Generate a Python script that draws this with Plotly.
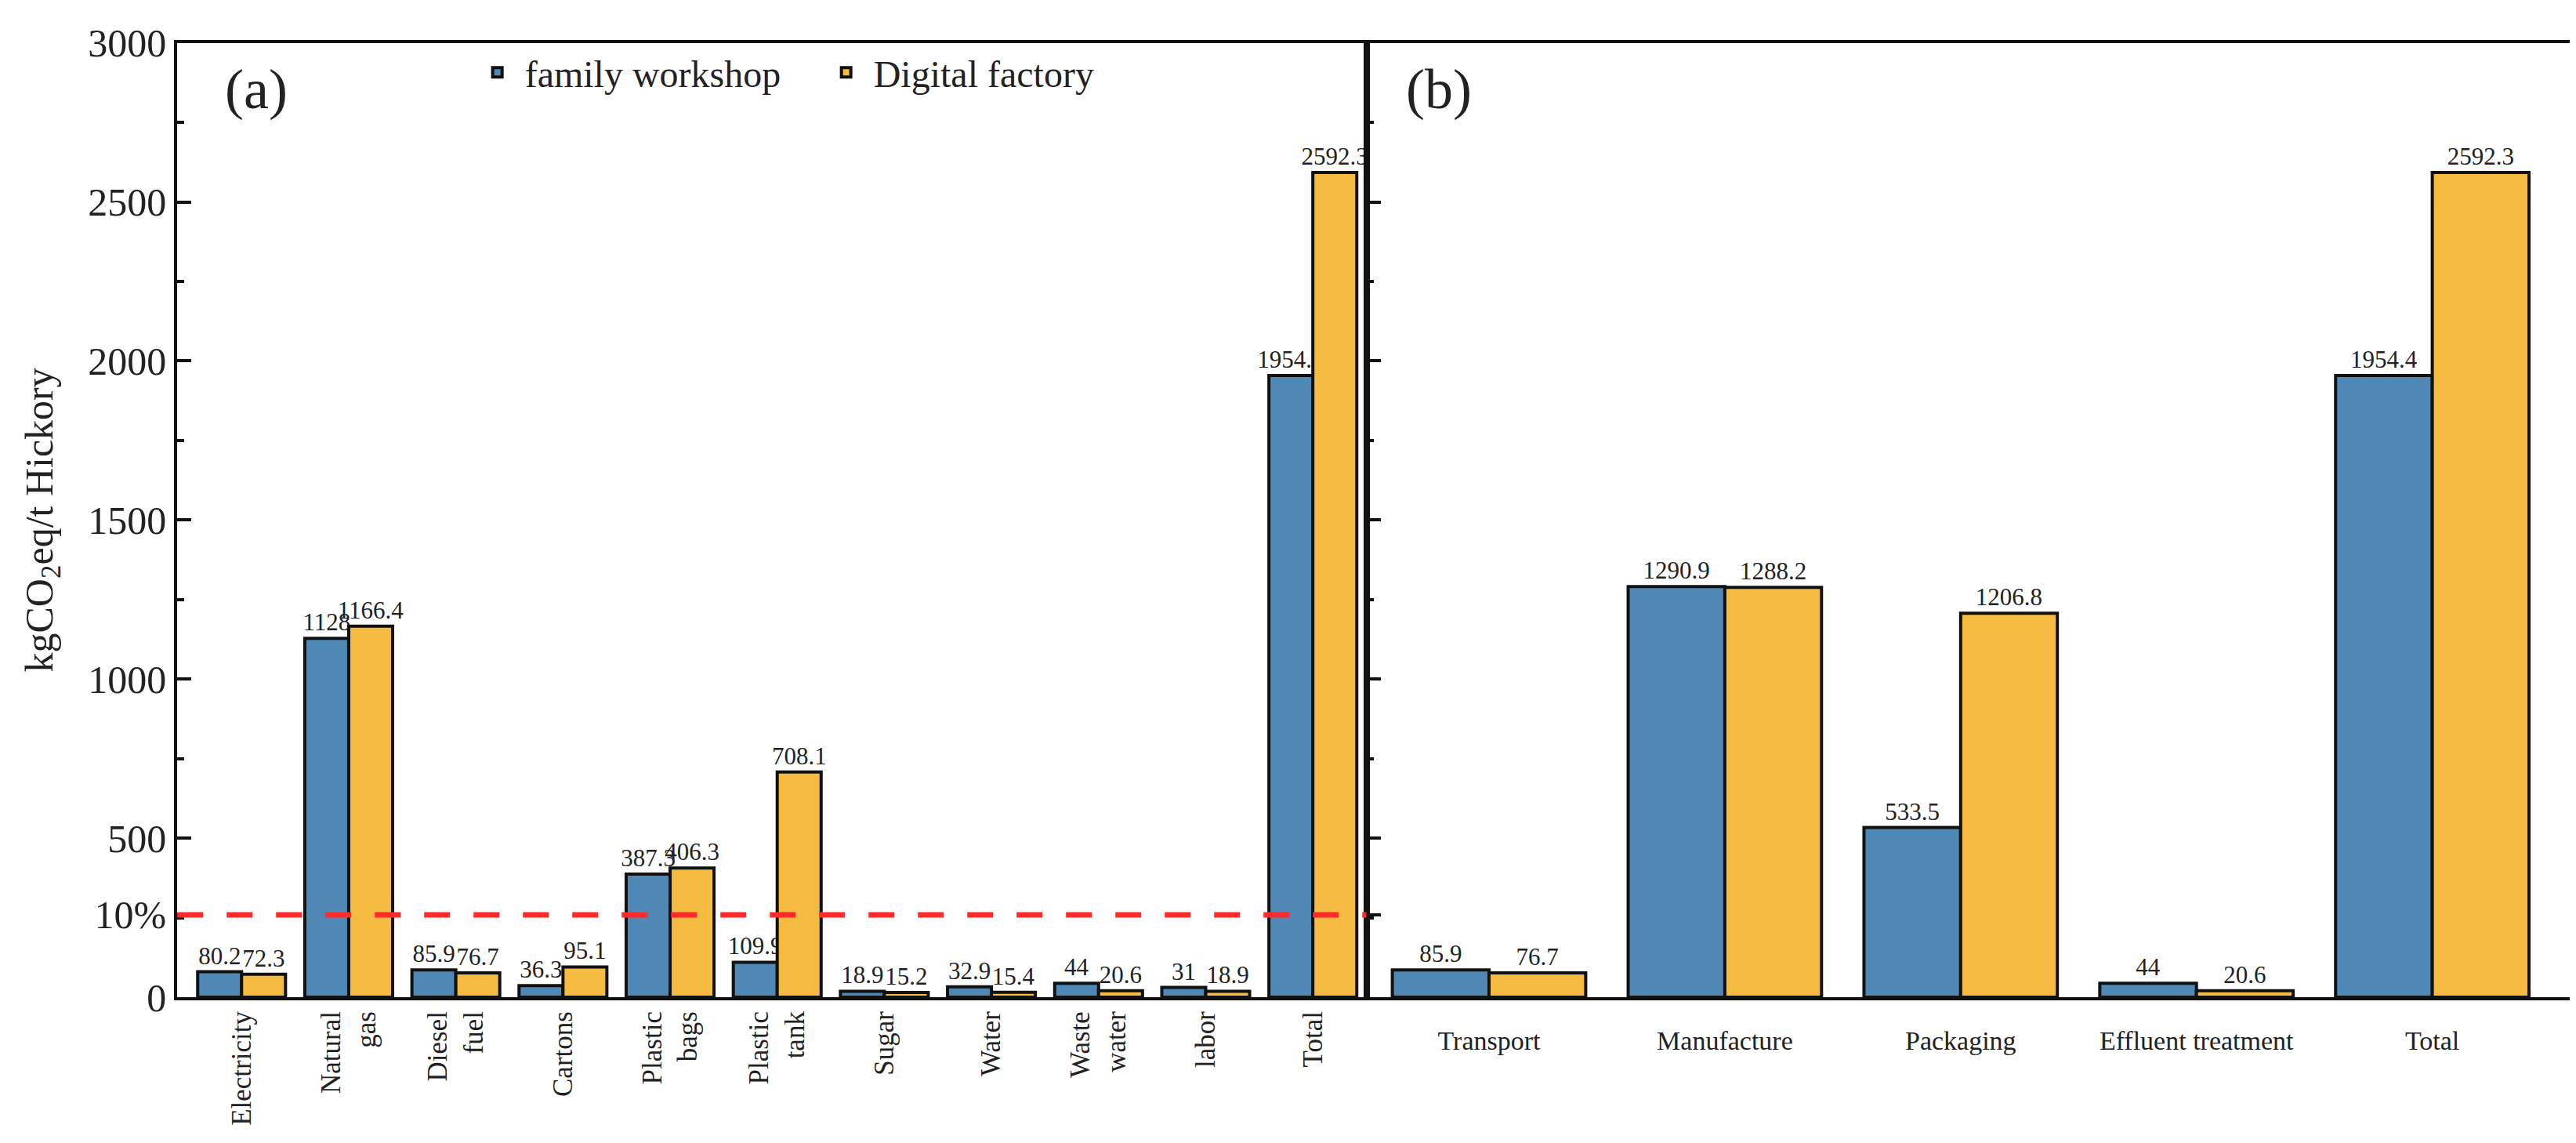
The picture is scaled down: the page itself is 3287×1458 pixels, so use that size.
import plotly.graph_objects as go

# panel (a) - by input
inputs = ["Electricity", "Natural<br>gas", "Diesel<br>fuel", "Cartons", "Plastic<br>bags",
          "Plastic<br>tank", "Sugar", "Water", "Waste<br>water", "labor", "Total"]
family_a = [80.2, 1128, 85.9, 36.3, 387.3, 109.9, 18.9, 32.9, 44, 31, 1954.4]
digital_a = [72.3, 1166.4, 76.7, 95.1, 406.3, 708.1, 15.2, 15.4, 20.6, 18.9, 2592.3]

# panel (b) - by stage
stages = ["Transport", "Manufacture", "Packaging", "Effluent treatment", "Total"]
family_b = [85.9, 1290.9, 533.5, 44, 1954.4]
digital_b = [76.7, 1288.2, 1206.8, 20.6, 2592.3]

threshold = 259.2  # 10% line
ytick_vals = [0, threshold, 500, 1000, 1500, 2000, 2500, 3000]
ytick_text = ["0", "10%", "500", "1000", "1500", "2000", "2500", "3000"]

BLUE = "#4f88b4"
GOLD = "#f5bc41"
FONT = "Liberation Serif"

fig = go.Figure()

def add_bars(x, y, name, color, xa, ya, legend):
    fig.add_trace(go.Bar(
        x=x, y=y, name=name, xaxis=xa, yaxis=ya, showlegend=legend,
        marker=dict(color=color, line=dict(color="#111111", width=4)),
        text=[f"{v:g}" for v in y], textposition="outside", cliponaxis=False,
        constraintext="none",
        textfont=dict(family=FONT, size=31, color="#222222"),
    ))

add_bars(inputs, family_a, "family workshop", BLUE, "x", "y", True)
add_bars(inputs, digital_a, "Digital factory", GOLD, "x", "y", True)
add_bars(stages, family_b, "family workshop", BLUE, "x2", "y2", False)
add_bars(stages, digital_b, "Digital factory", GOLD, "x2", "y2", False)

axis_common = dict(showline=True, linecolor="#111111", linewidth=4, mirror=True,
                   showgrid=False, zeroline=False)

fig.update_layout(
    width=3287, height=1458,
    margin=dict(l=0, r=0, t=0, b=0, autoexpand=False),
    plot_bgcolor="white", paper_bgcolor="white",
    font=dict(family=FONT, color="#222222"),
    barmode="group", bargap=0.18, bargroupgap=0,
    xaxis=dict(domain=[0.0664, 0.528], range=[-0.6, 10.5], ticks="",
               tickangle=-90, tickfont=dict(size=35), **axis_common),
    xaxis2=dict(domain=[0.528, 0.9967], range=[-0.52, 4.6], ticks="",
                tickangle=0, tickfont=dict(size=34), ticklabelstandoff=22,
                anchor="y2", **axis_common),
    yaxis=dict(domain=[0.133, 0.968], range=[0, 3000], tickmode="array",
               tickvals=ytick_vals, ticktext=ytick_text, ticks="inside",
               ticklen=18, tickwidth=4, tickcolor="#111111",
               tickfont=dict(size=50),
               minor=dict(tickmode="linear", tick0=0, dtick=250, ticks="inside",
                          ticklen=9, tickwidth=4, tickcolor="#111111"),
               title=dict(text="kgCO<sub>2</sub>eq/t Hickory", font=dict(size=50), standoff=30),
               **axis_common),
    yaxis2=dict(domain=[0.133, 0.968], range=[0, 3000], anchor="x2", matches="y",
                tickmode="array", tickvals=ytick_vals, showticklabels=False,
                ticks="inside", ticklen=18, tickwidth=4, tickcolor="#111111",
                minor=dict(tickmode="linear", tick0=0, dtick=250, ticks="inside",
                           ticklen=9, tickwidth=4, tickcolor="#111111"),
                **axis_common),
    legend=dict(orientation="h", x=0.180, y=0.942, xanchor="left", yanchor="middle",
                font=dict(size=48), bgcolor="rgba(0,0,0,0)", itemwidth=60,
                entrywidth=370, entrywidthmode="pixels", traceorder="normal"),
)

# 10% reference line across panel (a)
fig.add_shape(type="line", xref="x domain", yref="y", x0=0, x1=1, y0=threshold, y1=threshold,
              line=dict(color="#ff2a2a", width=7, dash="33px,30px"))

fig.add_annotation(text="(a)", xref="paper", yref="paper", x=0.097, y=0.927,
                   xanchor="center", yanchor="middle", showarrow=False, font=dict(size=72))
fig.add_annotation(text="(b)", xref="paper", yref="paper", x=0.556, y=0.927,
                   xanchor="center", yanchor="middle", showarrow=False, font=dict(size=72))

fig.write_html("out.html")
